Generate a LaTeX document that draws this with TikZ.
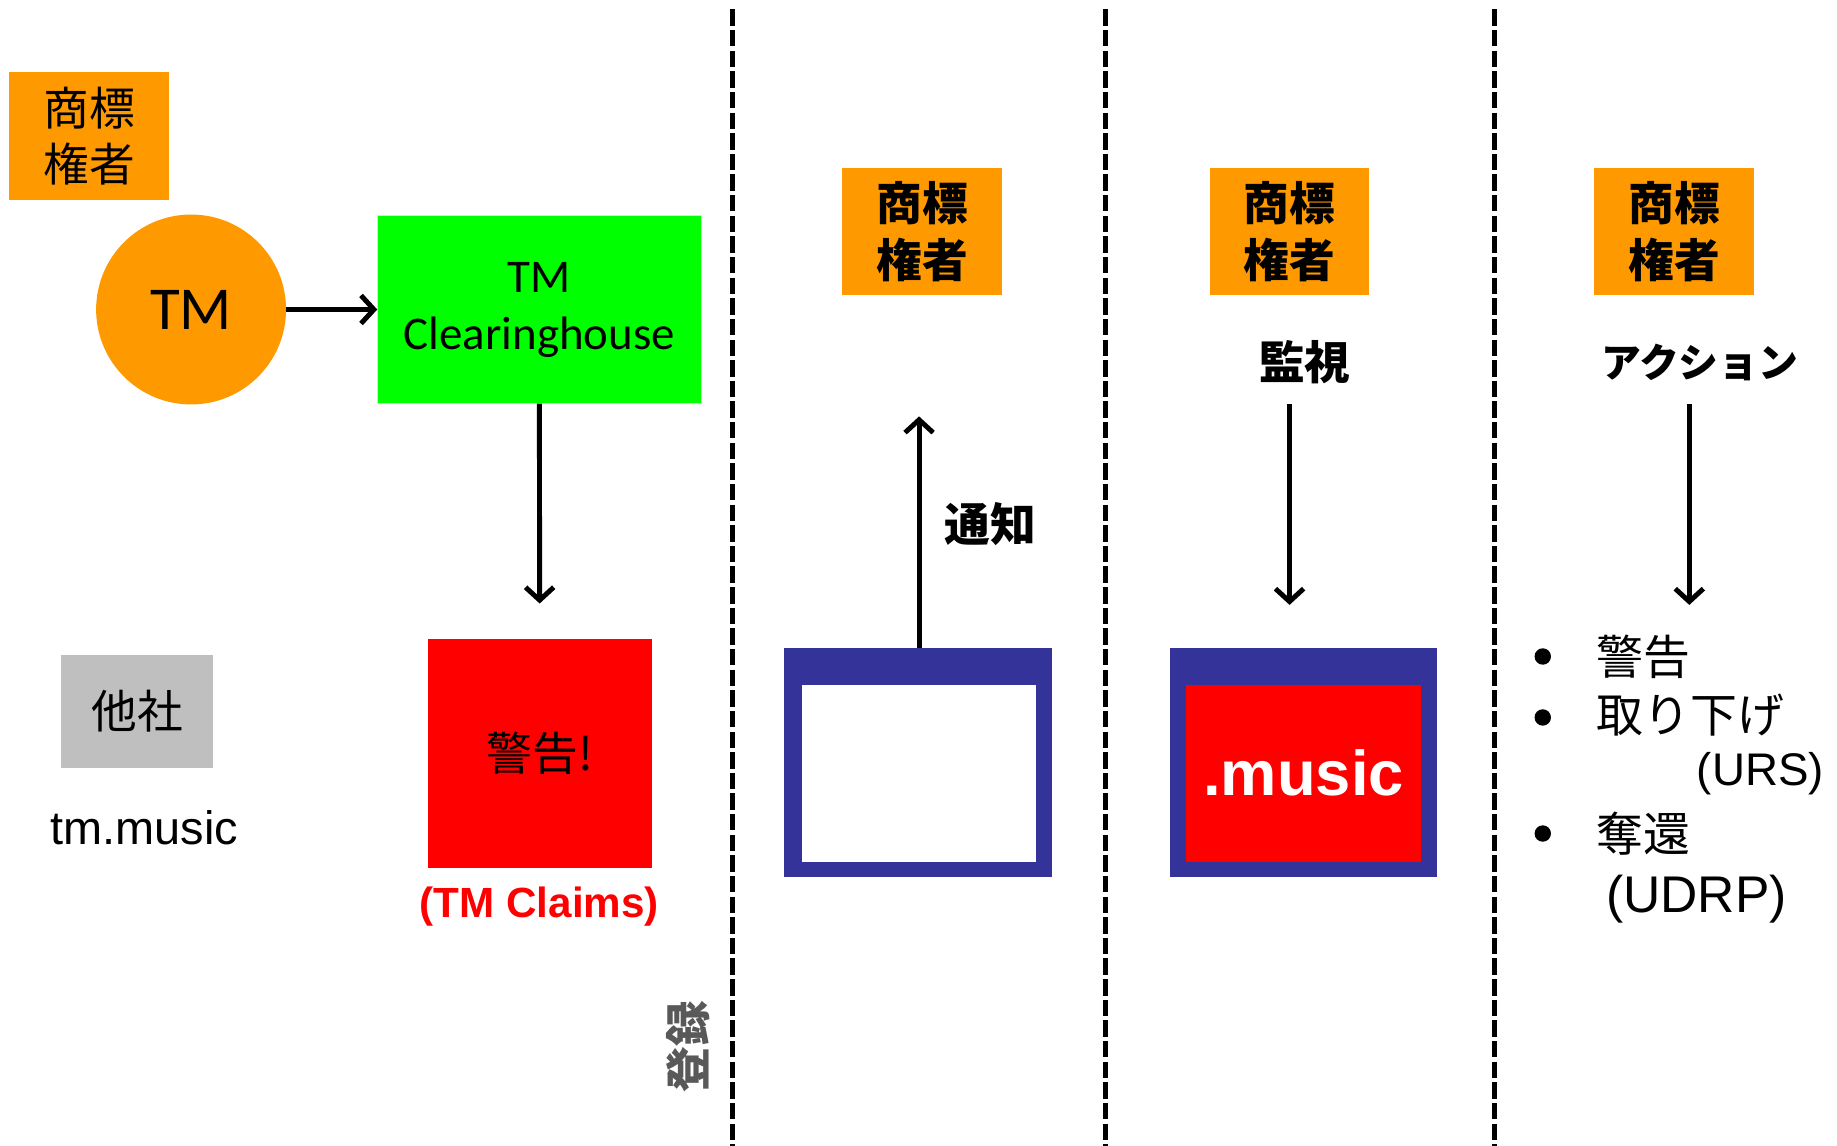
\documentclass[tikz,border=0pt]{standalone}
\usepackage{fontspec}
\setmainfont{Liberation Sans}
\newfontfamily\jpfont{Noto Sans CJK JP}
\newfontfamily\calibfont{Carlito}
\usetikzlibrary{arrows.meta, positioning, calc}

\definecolor{ownerorange}{HTML}{FF9900}
\definecolor{tmgreen}{HTML}{00FF00}
\definecolor{alertred}{HTML}{FF0000}
\definecolor{frameblue}{HTML}{333399}
\definecolor{othergray}{HTML}{BFBFBF}
\definecolor{regtext}{HTML}{595959}

\begin{document}
\begin{tikzpicture}[x=1pt, y=-1pt,
	owner/.style={fill=ownerorange, minimum width=136pt, minimum height=109pt, inner sep=0pt, align=center,
		font=\jpfont\bfseries\fontsize{39}{48}\selectfont},
	jplabel/.style={font=\jpfont\bfseries\fontsize{39}{46}\selectfont, inner sep=0pt},
	arr/.style={-{Straight Barb[length=11pt,width=24pt]}, line width=4.2pt},
	sepline/.style={line width=4.2pt, dash pattern=on 14pt off 3.6pt},
	frame/.style={fill=frameblue, minimum width=228pt, minimum height=195pt, inner sep=0pt},
	screen/.style={minimum width=200pt, minimum height=151pt, inner sep=0pt},
	listtext/.style={font=\jpfont\fontsize{40}{46}\selectfont, inner sep=0pt},
	]
	\useasboundingbox (0,0) rectangle (1567,977);
	
	% ---------- Registration ----------
	\node[owner, font=\jpfont\fontsize{39}{48}\selectfont] (owner1) at (76,116) {商標\\権者};
	\node[circle, fill=ownerorange, minimum size=162pt, inner sep=0pt,
		font=\calibfont\fontsize{52}{60}\selectfont] (tm) at (163,264) {TM};
	\node[fill=tmgreen, draw=black!12, minimum width=276pt, minimum height=160pt, inner sep=0pt,
		font=\calibfont\fontsize{40}{49}\selectfont] (tmch) at (460,264)
		{\raisebox{-4pt}{\begin{tabular}{@{}c@{}}TM\\[-1pt]Clearinghouse\end{tabular}}};
	\node[fill=alertred, minimum width=191pt, minimum height=195pt, inner sep=0pt,
		font=\jpfont\fontsize{39}{44}\selectfont] (claims) at (460.5,642.5) {警告!};
	\node[text=alertred, font=\bfseries\fontsize{36}{42}\selectfont, inner sep=0pt] (claimlbl) at (460,773) {(TM Claims)};
	\node[fill=othergray, minimum width=130pt, minimum height=96pt, inner sep=0pt,
		font=\jpfont\fontsize{39}{46}\selectfont] (other) at (117,607) {他社};
	\node[font=\fontsize{40}{46}\selectfont, inner sep=0pt] (domain) at (123,706) {tm.music};
	\node[jplabel, text=regtext, rotate=90] (reg) at (587,893) {登録};
	
	\draw[arr] (tm) -- (tmch);
	\draw[arr, shorten >=30pt] (tmch) -- (claims);
	
	% ---------- Notice ----------
	\node[owner] (owner2) at (786.5,197.5) {商標\\権者};
	\node[frame] (frame2) at (783,650.5) {};
	\node[screen, fill=white] (screen2) at (784,659.5) {};
	\node[jplabel] (notice) at (845,447) {通知};
	\draw[arr, shorten >=103pt] (frame2.north -| screen2) -- (owner2.south -| screen2);
	
	% ---------- Watch ----------
	\node[owner] (owner3) at (1100,197.5) {商標\\権者};
	\node[jplabel] (watch) at (1113,309) {監視};
	\node[frame] (frame3) at (1112,650.5) {};
	\node[screen, fill=alertred, text=white, font=\bfseries\fontsize{54}{60}\selectfont] (screen3) at (1112,659.5) {.music};
	\coordinate (watch top) at (1100,345);
	\coordinate (watch end) at (1100,516);
	\draw[arr] (watch top) -- (watch end);
	
	% ---------- Action ----------
	\node[owner] (owner4) at (1428,197.5) {商標\\権者};
	\node[jplabel, font=\jpfont\bfseries\fontsize{34}{40}\selectfont] (action) at (1450,309) {アクション};
	\coordinate (action top) at (1441,345);
	\coordinate (action end) at (1441,516);
	\draw[arr] (action top) -- (action end);
	
	\foreach \by in {560, 612, 711} {
		\fill (1316,\by) circle (7pt);
	}
	\node[listtext, anchor=west] (warn) at (1362,560) {警告};
	\node[listtext, anchor=west] (takedown) at (1362,610) {取り下げ};
	\node[listtext, font=\fontsize{39}{46}\selectfont, anchor=east] (urs) at (1556,660) {(URS)};
	\node[listtext, anchor=west] (recover) at (1362,711) {奪還};
	\node[listtext, font=\fontsize{44}{48}\selectfont, anchor=west] (udrp) at (1370,767) {(UDRP)};
	
	% ---------- Separators ----------
	\foreach \sx in {625, 943, 1275} {
		\draw[sepline] (\sx,8) -- (\sx,980);
	}
	
\end{tikzpicture}
\end{document}
